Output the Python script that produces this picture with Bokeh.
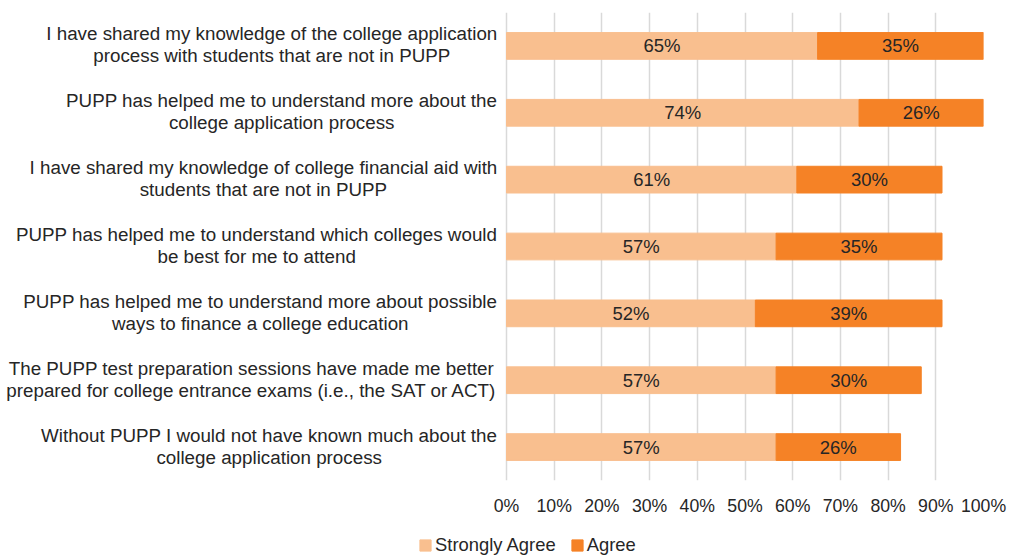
from bokeh.plotting import figure
from bokeh.layouts import column
from bokeh.models import (ColumnDataSource, Range1d, PrintfTickFormatter,
                          Legend, LegendItem, FixedTicker, LabelSet)
from bokeh.core.properties import value
from bokeh.embed import file_html
from bokeh.resources import INLINE

categories = [
    "I have shared my knowledge of the college application\nprocess with students that are not in PUPP",
    "PUPP has helped me to understand more about the\ncollege application process",
    "I have shared my knowledge of college financial aid with\nstudents that are not in PUPP",
    "PUPP has helped me to understand which colleges would\nbe best for me to attend",
    "PUPP has helped me to understand more about possible\nways to finance a college education",
    "The PUPP test preparation sessions have made me better\nprepared for college entrance exams (i.e., the SAT or ACT)",
    "Without PUPP I would not have known much about the\ncollege application process",
]
strongly_agree = [65.22, 73.91, 60.87, 56.52, 52.17, 56.52, 56.52]
agree = [34.78, 26.09, 30.43, 34.78, 39.13, 30.43, 26.09]
series_names = ["Strongly Agree", "Agree"]
x_ticks = [0, 10, 20, 30, 40, 50, 60, 70, 80, 90, 100]

LIGHT = "#F9BF8F"
DARK = "#F58226"
TEXT = "#262626"
GRID = "#D9D9D9"
FONT = "Liberation Sans"
FS = 18.8             # px, category label font size
W, H = 1009, 555
LEG_H = 25            # height of the legend strip
TOP_H = H - LEG_H
BT, BB, BR = 12, 50, 26
ZERO_PX = 506         # pixel where 0% sits (labels live to its left)
N = len(categories)
FRAME_W = W - BR
FRAME_H = TOP_H - BT - BB
PX_PER_PCT = (FRAME_W - ZERO_PX) / 100.0

# Helvetica/Arial advance widths (1/1000 em) used to centre the wrapped label blocks
_AW = {" ": 278, "a": 556, "b": 556, "c": 500, "d": 556, "e": 556, "f": 278, "g": 556,
       "h": 556, "i": 222, "j": 222, "k": 500, "l": 222, "m": 833, "n": 556, "o": 556,
       "p": 556, "q": 556, "r": 333, "s": 500, "t": 278, "u": 556, "v": 500, "w": 722,
       "x": 500, "y": 500, "z": 500, "A": 667, "C": 722, "I": 278, "P": 667, "S": 667,
       "T": 611, "U": 722, "W": 944, "(": 333, ")": 333, ".": 278, ",": 278}


def text_w(s):
    return sum(_AW.get(ch, 556) for ch in s) * FS / 1000.0


ypos = [i + 0.5 for i in range(N)]
src = ColumnDataSource(dict(
    y=ypos,
    sa=strongly_agree,
    total=[a + b for a, b in zip(strongly_agree, agree)],
    sa_mid=[a / 2 for a in strongly_agree],
    ag_mid=[a + b / 2 for a, b in zip(strongly_agree, agree)],
    sa_lab=["%d%%" % int(a + 0.5) for a in strongly_agree],
    ag_lab=["%d%%" % int(b + 0.5) for b in agree],
))

# ---- category label lines, block right edge 9px left of the 0% line ----
unit_y = FRAME_H / N
line_gap = 22.0 / unit_y
lift = 1.0 / unit_y
lx, ly, lt = [], [], []
for i, cat in enumerate(categories):
    lines = cat.split("\n")
    maxw = max(text_w(s) for s in lines)
    n = len(lines)
    for j, s in enumerate(lines):
        lx.append((-9 - maxw / 2) / PX_PER_PCT)
        ly.append(ypos[i] - lift + (j - (n - 1) / 2) * line_gap)
        lt.append(s)
cat_src = ColumnDataSource(dict(x=lx, y=ly, t=lt))

# ---- main chart ----
p = figure(width=W, height=TOP_H, output_backend="svg", toolbar_location=None,
           x_range=Range1d(-ZERO_PX / PX_PER_PCT, 100), y_range=Range1d(N, 0),
           min_border_left=0, min_border_right=BR, min_border_top=BT, min_border_bottom=BB)
p.outline_line_color = None

r1 = p.hbar(y="y", left=0, right="sa", height=0.4, color=LIGHT, source=src)
r2 = p.hbar(y="y", left="sa", right="total", height=0.4, color=DARK, source=src)

for xcol, lcol in (("sa_mid", "sa_lab"), ("ag_mid", "ag_lab")):
    p.add_layout(LabelSet(x=xcol, y="y", text=lcol, source=src, text_align="center",
                          text_baseline="middle", text_font=value(FONT),
                          text_font_size="18.5px", text_color=TEXT))

p.add_layout(LabelSet(x="x", y="y", text="t", source=cat_src, text_align="center",
                      text_baseline="middle", text_font=value(FONT),
                      text_font_size="%gpx" % FS, text_color=TEXT))

p.yaxis.visible = False
p.xaxis.ticker = FixedTicker(ticks=x_ticks)
p.xaxis.formatter = PrintfTickFormatter(format="%d%%")
p.xaxis.axis_line_color = None
p.xaxis.major_tick_line_color = None
p.xaxis.minor_tick_line_color = None
p.xaxis.major_tick_out = 0
p.xaxis.major_label_standoff = 15
p.xaxis.major_label_text_font = FONT
p.xaxis.major_label_text_font_size = "17.7px"
p.xaxis.major_label_text_color = TEXT

p.xgrid.grid_line_color = GRID
p.xgrid.grid_line_width = 1.5
p.xgrid.ticker = FixedTicker(ticks=x_ticks)
p.ygrid.grid_line_color = None

# ---- legend strip (swatch renderers sit outside the visible range) ----
pg = figure(width=W, height=LEG_H, output_backend="svg", toolbar_location=None,
            x_range=Range1d(0, 1), y_range=Range1d(0, 1),
            min_border_left=0, min_border_right=0, min_border_top=0, min_border_bottom=0)
pg.outline_line_color = None
pg.axis.visible = False
pg.grid.grid_line_color = None
swatch = ColumnDataSource(dict(y=[-5], l=[-2], r=[-1]))
g1 = pg.hbar(y="y", left="l", right="r", height=1, color=LIGHT, source=swatch)
g2 = pg.hbar(y="y", left="l", right="r", height=1, color=DARK, source=swatch)
legend = Legend(items=[LegendItem(label=series_names[0], renderers=[g1], index=0),
                       LegendItem(label=series_names[1], renderers=[g2], index=0)],
                location=(418, -1), orientation="horizontal",
                border_line_color=None, background_fill_alpha=0,
                label_text_font=FONT, label_text_font_size="18.4px", label_text_color=TEXT,
                glyph_width=14, glyph_height=14, label_standoff=3, spacing=14,
                padding=0, margin=0, label_height=14)
pg.add_layout(legend)

layout = column(p, pg)
open("out.html", "w").write(file_html(layout, INLINE))
